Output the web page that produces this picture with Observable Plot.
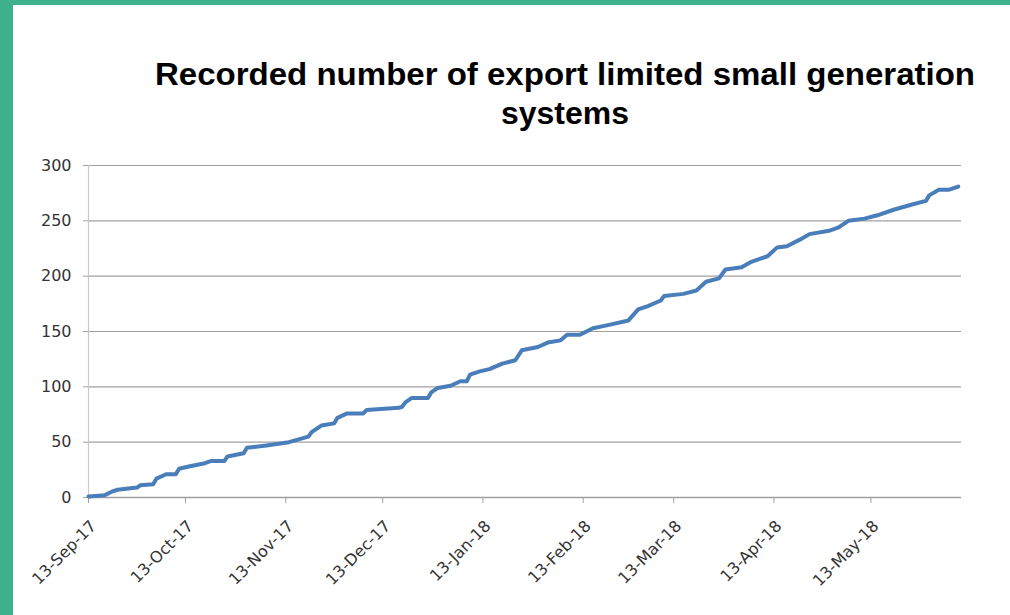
<!DOCTYPE html>
<html>
<head>
<meta charset="utf-8">
<script src="https://cdn.jsdelivr.net/npm/d3@7"></script>
<script src="https://cdn.jsdelivr.net/npm/@observablehq/plot@0.6"></script>
<style>
  html, body { margin: 0; padding: 0; background: #ffffff; }
  body { width: 1010px; height: 615px; position: relative; overflow: hidden; }
  #leftbar { position: absolute; left: 0; top: 0; width: 13px; height: 615px; background: #3db08c; }
  #topbar { position: absolute; left: 0; top: 0; width: 1010px; height: 5px; background: #3db08c; }
  #title { position: absolute; left: 0; top: 0; }
  #chart { position: absolute; left: 0; top: 150px; }
</style>
</head>
<body>
<div id="leftbar"></div>
<div id="topbar"></div>
<svg id="title" width="1010" height="150">
  <text x="565" y="85" text-anchor="middle" textLength="820" lengthAdjust="spacingAndGlyphs"
        font-family="Liberation Sans Narrow, Liberation Sans, Arial, sans-serif" font-weight="bold" font-size="31" fill="#000">Recorded number of export limited small generation</text>
  <text x="565" y="124" text-anchor="middle" textLength="128" lengthAdjust="spacingAndGlyphs"
        font-family="Liberation Sans Narrow, Liberation Sans, Arial, sans-serif" font-weight="bold" font-size="31" fill="#000">systems</text>
</svg>
<div id="chart"></div>
<script>
const dates = [
  "2017-09-13","2017-09-18","2017-09-20","2017-09-22","2017-09-28","2017-09-29","2017-10-03","2017-10-04",
  "2017-10-07","2017-10-10","2017-10-11","2017-10-14","2017-10-19","2017-10-21","2017-10-25","2017-10-26",
  "2017-10-31","2017-11-01","2017-11-07","2017-11-14","2017-11-20","2017-11-21","2017-11-24","2017-11-28",
  "2017-11-29","2017-12-02","2017-12-07","2017-12-08","2017-12-18","2017-12-19","2017-12-20","2017-12-22",
  "2017-12-27","2017-12-28","2017-12-30","2018-01-03","2018-01-06","2018-01-08","2018-01-09","2018-01-12",
  "2018-01-15","2018-01-19","2018-01-23","2018-01-25","2018-01-30","2018-02-02","2018-02-06","2018-02-08",
  "2018-02-12","2018-02-16","2018-02-21","2018-02-27","2018-03-02","2018-03-05","2018-03-09","2018-03-10",
  "2018-03-16","2018-03-20","2018-03-23","2018-03-27","2018-03-29","2018-04-03","2018-04-06","2018-04-11",
  "2018-04-14","2018-04-17","2018-04-21","2018-04-24","2018-04-30","2018-05-03","2018-05-06","2018-05-11",
  "2018-05-15","2018-05-20","2018-05-26","2018-05-30","2018-05-31","2018-06-03","2018-06-06","2018-06-09"
];
const counts = [
  1, 2, 5, 7, 9, 11, 12, 17,
  21, 21, 26, 28, 31, 33, 33, 37,
  40, 45, 47, 50, 55, 59, 65, 67,
  72, 76, 76, 79, 81, 82, 86, 90,
  90, 95, 99, 101, 105, 105, 111, 114,
  116, 121, 124, 133, 136, 140, 142, 147,
  147, 153, 156, 160, 170, 173, 178, 182,
  184, 187, 195, 198, 206, 208, 213, 218,
  226, 227, 233, 238, 241, 244, 250, 252,
  255, 260, 265, 268, 273, 278, 278, 281
];
const xTickDates = ["2017-09-13","2017-10-13","2017-11-13","2017-12-13","2018-01-13","2018-02-13","2018-03-13","2018-04-13","2018-05-13"];
const yTicks = [0, 50, 100, 150, 200, 250, 300];
const xDomain = ["2017-09-13", "2018-06-10"];

const data = dates.map((d, i) => ({date: new Date(d), count: counts[i]}));
const xTicks = xTickDates.map(d => new Date(d));
const fmt = d3.utcFormat("%d-%b-%y");

const chart = Plot.plot({
  width: 1010,
  height: 465,
  marginLeft: 88,
  marginRight: 49,
  marginTop: 15,
  marginBottom: 118,
  style: {fontFamily: "DejaVu Sans, sans-serif", fontSize: "16px", color: "#333333", background: "transparent"},
  x: {type: "utc", domain: xDomain.map(d => new Date(d))},
  y: {domain: [0, 300]},
  marks: [
    Plot.gridY(yTicks, {stroke: "#a0a0a0", strokeOpacity: 1, strokeWidth: 1.2}),
    Plot.ruleX([new Date(xDomain[0])], {stroke: "#c8c8c8", strokeWidth: 1.2}),
    Plot.axisY(yTicks, {tickSize: 5, tickPadding: 12, stroke: "#a0a0a0", label: null, tickFormat: d => String(d)}),
    Plot.ruleY([0], {stroke: "#a0a0a0", strokeWidth: 1.5}),
    Plot.axisX(xTicks, {tickSize: 6, stroke: "#a0a0a0", label: null, tickFormat: () => ""}),
    Plot.axisX(xTicks, {tickSize: 0, tickPadding: 26, dx: 5, tickRotate: -45, label: null, tickFormat: fmt, fontSize: 16}),
    Plot.line(data, {x: "date", y: "count", stroke: "#4a7ebb", strokeWidth: 4, strokeLinejoin: "round"})
  ]
});
document.getElementById("chart").appendChild(chart);
</script>
</body>
</html>
